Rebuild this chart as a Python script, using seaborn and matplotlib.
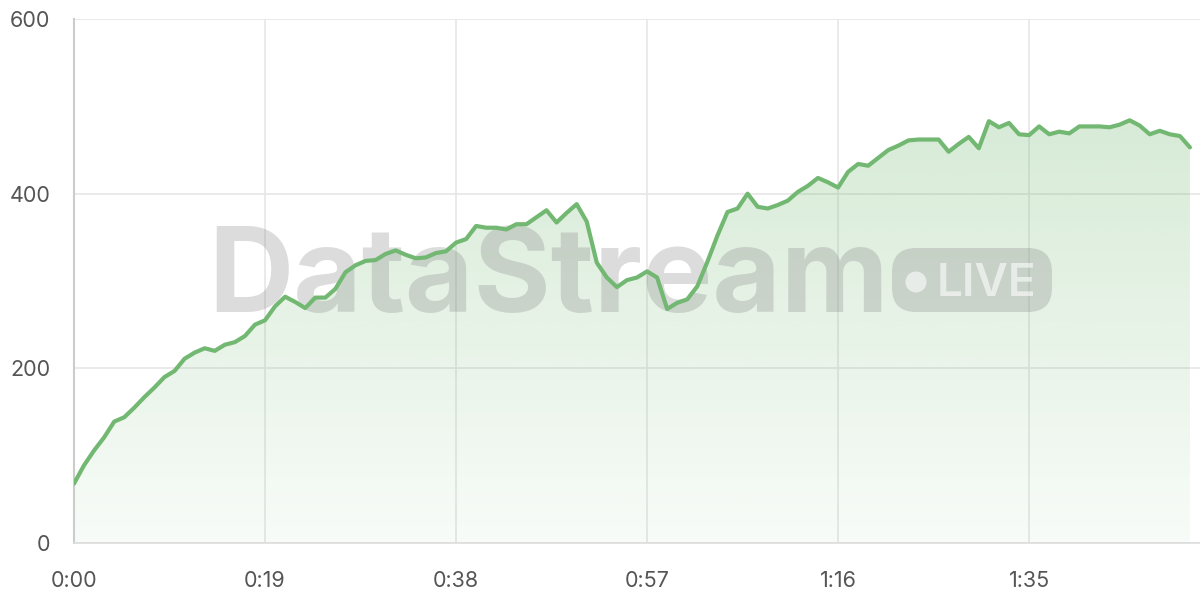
import numpy as np
import pandas as pd
import matplotlib
matplotlib.use("Agg")
import matplotlib.pyplot as plt
from matplotlib.patches import FancyBboxPatch, Circle
from matplotlib.transforms import IdentityTransform
import seaborn as sns

# seconds since start, one reading per second
seconds = list(range(112))
viewers = [68, 89, 106, 121, 139, 144, 155, 167, 178, 190, 197, 211, 218, 223, 220, 227,
           230, 237, 250, 255, 271, 282, 276, 269, 281, 281, 291, 310, 318, 323, 324, 331,
           335, 330, 326, 327, 332, 334, 344, 348, 363, 361, 361, 359, 365, 365, 373, 381,
           367, 378, 388, 368, 321, 304, 293, 301, 304, 311, 304, 268, 275, 279, 294, 322,
           352, 379, 383, 400, 385, 383, 387, 392, 402, 409, 418, 413, 407, 425, 434, 432,
           441, 450, 455, 461, 462, 462, 462, 448, 457, 465, 452, 483, 476, 481, 468, 467,
           477, 468, 471, 469, 477, 477, 477, 476, 479, 484, 478, 468, 472, 468, 466, 453]
tick_secs = [0, 19, 38, 57, 76, 95]
tick_labels = ["0:00", "0:19", "0:38", "0:57", "1:16", "1:35"]
y_ticks = [0, 200, 400, 600]

df = pd.DataFrame({"t": seconds, "v": viewers})

green = "#72b872"
grid_c = "#e6e6e6"

sns.set_style("white")
plt.rcParams["font.family"] = ["Inter", "DejaVu Sans"]

fig = plt.figure(figsize=(12, 6), dpi=100)
ax = fig.add_axes([74 / 1200, 57 / 600, 1 - 74 / 1200, (543 - 19) / 600])

# gradient fill under the line
grad = np.linspace(0.05, 0.34, 256).reshape(-1, 1)
rgba = np.zeros((256, 1, 4))
rgba[..., :3] = matplotlib.colors.to_rgb(green)
rgba[..., 3] = grad[:, 0:1]
img = ax.imshow(rgba, origin="lower", aspect="auto", extent=[0, 112, 0, 600], zorder=1)
poly = ax.fill_between(df["t"], df["v"], 0, color="none", lw=0)
img.set_clip_path(poly.get_paths()[0], transform=ax.transData)

sns.lineplot(data=df, x="t", y="v", color=green, lw=3, ax=ax, zorder=4)

# watermark
wm = (0.5, 0.5, 0.5, 0.27)
ax.text(208, 288, "DataStream", transform=IdentityTransform(), fontsize=85,
        fontweight="bold", color=wm, ha="left", va="baseline", zorder=3,
        family=["Inter", "DejaVu Sans"])
badge = FancyBboxPatch((892 + 24, 288 + 24), 160 - 48, 64 - 48,
                       boxstyle="round,pad=24", transform=IdentityTransform(),
                       facecolor=wm, edgecolor="none", zorder=3, clip_on=False)
ax.add_patch(badge)
ax.add_patch(Circle((916, 318), 10.5, transform=IdentityTransform(),
                    facecolor=(1, 1, 1, 0.6), edgecolor="none", zorder=3, clip_on=False))
ax.text(937, 304, "LIVE", transform=IdentityTransform(), fontsize=33,
        fontweight="semibold", color=(1, 1, 1, 0.6), ha="left", va="baseline",
        zorder=3, family=["Inter", "DejaVu Sans"])

ax.set_xlim(0, 112)
ax.set_ylim(0, 600)
ax.set_xticks(tick_secs)
ax.set_xticklabels(tick_labels)
ax.set_yticks(y_ticks)
ax.grid(True, color=grid_c, lw=1.2, zorder=0)
ax.set_axisbelow(True)
ax.set_xlabel("")
ax.set_ylabel("")

for s in ["top", "right"]:
    ax.spines[s].set_visible(False)
ax.spines["left"].set_color("#cccccc")
ax.spines["left"].set_linewidth(1.5)
ax.spines["bottom"].set_color("#dddddd")
ax.spines["bottom"].set_linewidth(1.2)

ax.tick_params(axis="x", length=11, width=1.2, color=grid_c, pad=9,
               labelsize=15.5, labelcolor="#555555")
ax.tick_params(axis="y", length=12, width=1.2, color=grid_c, pad=5,
               labelsize=15.5, labelcolor="#555555")

fig.savefig("out.png", dpi=100)
